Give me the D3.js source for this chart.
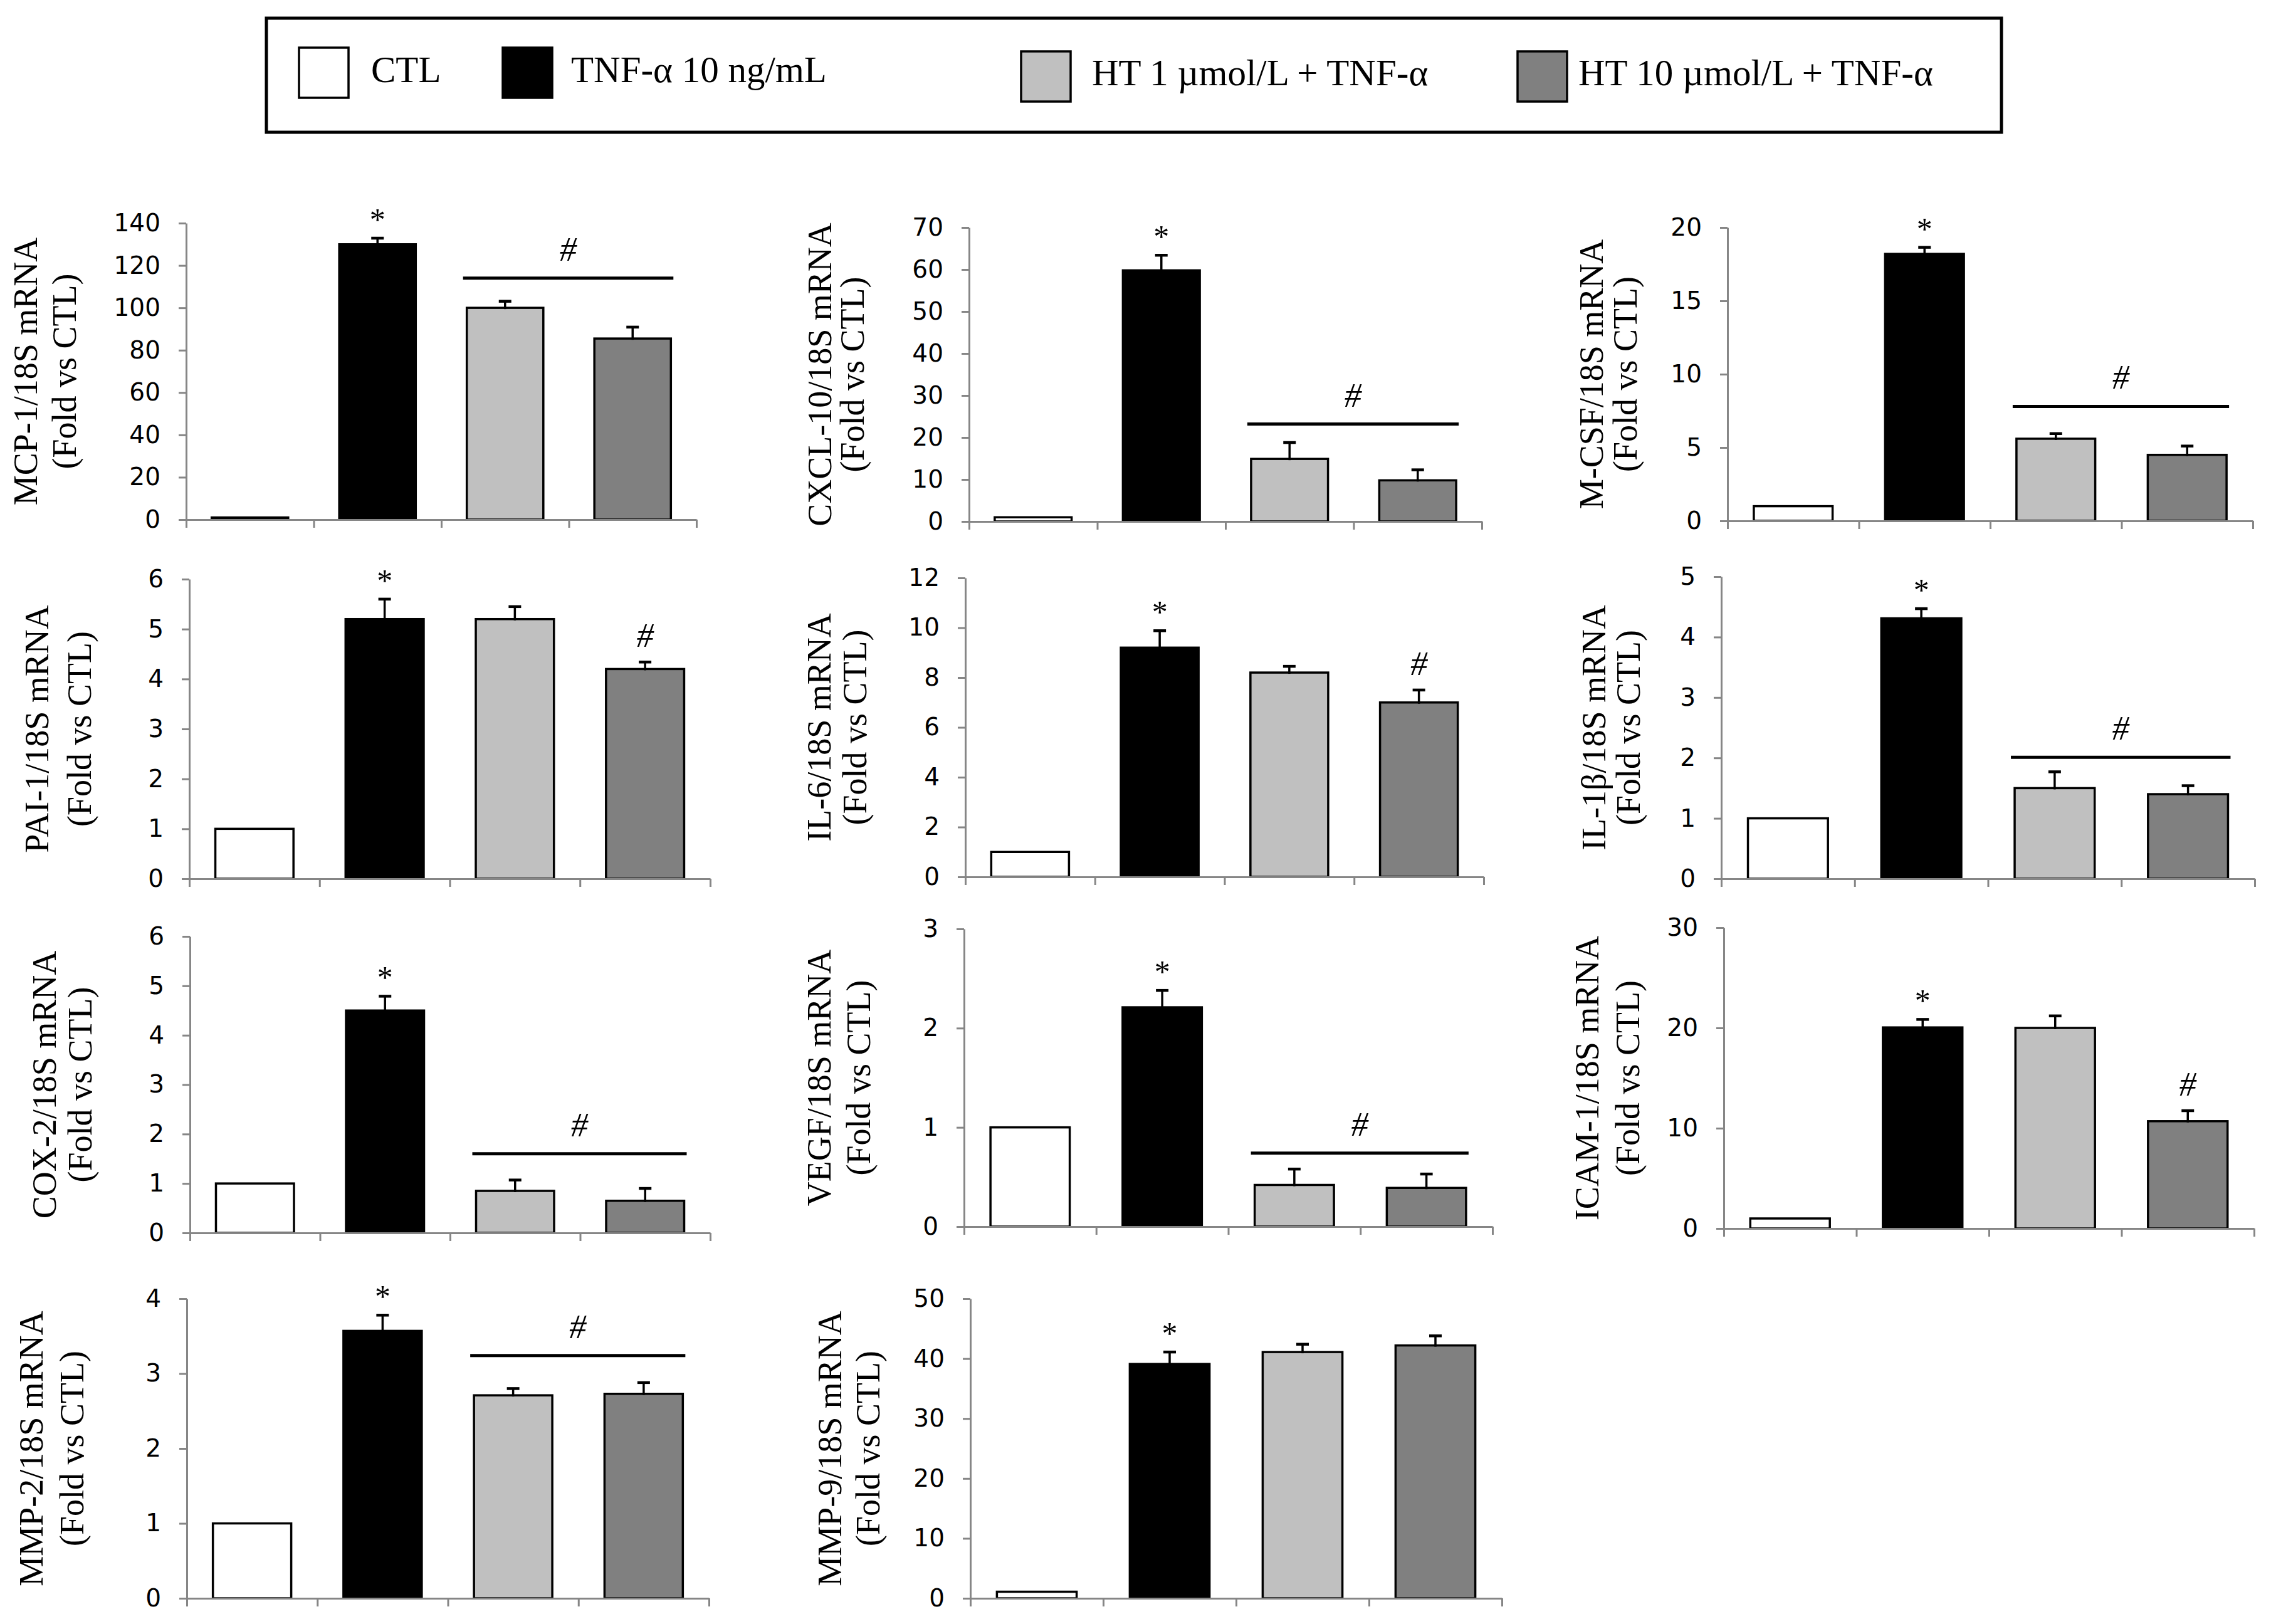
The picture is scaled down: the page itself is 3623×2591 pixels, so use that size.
<!DOCTYPE html>
<html>
<head>
<meta charset="utf-8">
<script src="https://cdn.jsdelivr.net/npm/d3@7"></script>
<style>
  html, body { margin: 0; padding: 0; background: #ffffff; }
  svg { display: block; }
</style>
</head>
<body>
<svg id="chart" width="3623" height="2591"></svg>
<script>
// ---------------- DATA ----------------
const groups = ["CTL", "TNF-α 10 ng/mL", "HT 1 µmol/L + TNF-α", "HT 10 µmol/L + TNF-α"];
const genes = ["MCP-1", "CXCL-10", "M-CSF", "PAI-1", "IL-6", "IL-1β", "COX-2", "VEGF", "ICAM-1", "MMP-2", "MMP-9"];

const meanMCP1 = [1, 130, 100, 85.5];     const semMCP1 = [0, 2.9, 3.1, 5.4];
const meanCXCL10 = [1, 59.8, 14.9, 9.8];  const semCXCL10 = [0, 3.6, 3.9, 2.5];
const meanMCSF = [1, 18.2, 5.6, 4.5];     const semMCSF = [0, 0.45, 0.35, 0.6];
const meanPAI1 = [1, 5.2, 5.2, 4.2];      const semPAI1 = [0, 0.4, 0.25, 0.14];
const meanIL6 = [1, 9.2, 8.2, 7.0];       const semIL6 = [0, 0.68, 0.25, 0.5];
const meanIL1B = [1, 4.31, 1.5, 1.4];     const semIL1B = [0, 0.16, 0.27, 0.14];
const meanCOX2 = [1, 4.5, 0.85, 0.65];    const semCOX2 = [0, 0.29, 0.22, 0.25];
const meanVEGF = [1, 2.21, 0.42, 0.39];   const semVEGF = [0, 0.17, 0.16, 0.14];
const meanICAM1 = [1, 20.05, 20.0, 10.7]; const semICAM1 = [0, 0.8, 1.2, 1.05];
const meanMMP2 = [1, 3.57, 2.71, 2.73];   const semMMP2 = [0, 0.21, 0.09, 0.15];
const meanMMP9 = [1.1, 39.1, 41.1, 42.2]; const semMMP9 = [0, 2.0, 1.3, 1.6];

const yMaxes = [140, 70, 20, 6, 12, 5, 6, 3, 30, 4, 50];
const ySteps = [20, 10, 5, 1, 2, 1, 1, 1, 10, 1, 10];

// significance: "*" over TNF-α bar; "#" either over a bracket (level in data units) or over the HT 10 bar
const hashKind = ["line", "line", "line", "bar", "bar", "line", "line", "line", "bar", "line", "none"];
const hashLineLevel = [114, 23.2, 7.8, null, null, 2.01, 1.6, 0.74, null, 3.24, null];

const allMeans = [meanMCP1, meanCXCL10, meanMCSF, meanPAI1, meanIL6, meanIL1B, meanCOX2, meanVEGF, meanICAM1, meanMMP2, meanMMP9];
const allSems = [semMCP1, semCXCL10, semMCSF, semPAI1, semIL6, semIL1B, semCOX2, semVEGF, semICAM1, semMMP2, semMMP9];

// ---------------- LAYOUT / STYLE ----------------
const fills = ["#ffffff", "#000000", "#c0c0c0", "#808080"];
const axisColor = "#868686";
const serif = "'Liberation Serif', 'Times New Roman', serif";
const sans = "'DejaVu Sans', 'Liberation Sans', Arial, sans-serif";

// panel boxes: left (y-axis x), right, top (max tick), bottom (zero), label baseline offsets
const layout = [
  {l: 297,  r: 1111, t: 356,  b: 829,  o1: 238, o2: 176},
  {l: 1546, r: 2364, t: 363,  b: 832,  o1: 220, o2: 168},
  {l: 2756, r: 3594, t: 363,  b: 831,  o1: 199, o2: 145},
  {l: 302,  r: 1133, t: 924,  b: 1402, o1: 225, o2: 157},
  {l: 1540, r: 2367, t: 922,  b: 1399, o1: 215, o2: 158},
  {l: 2746, r: 3597, t: 920,  b: 1402, o1: 185, o2: 130},
  {l: 303,  r: 1133, t: 1494, b: 1967, o1: 214, o2: 157},
  {l: 1538, r: 2381, t: 1482, b: 1957, o1: 213, o2: 150},
  {l: 2750, r: 3596, t: 1480, b: 1960, o1: 200, o2: 135},
  {l: 298,  r: 1131, t: 2072, b: 2550, o1: 230, o2: 165},
  {l: 1548, r: 2396, t: 2072, b: 2550, o1: 206, o2: 145}
];

const svg = d3.select("#chart");
svg.append("rect").attr("x", 0).attr("y", 0).attr("width", 3623).attr("height", 2591).attr("fill", "#ffffff");

// ---------------- LEGEND ----------------
const legend = svg.append("g").attr("class", "legend");
legend.append("rect")
  .attr("x", 425).attr("y", 29).attr("width", 2768).attr("height", 182)
  .attr("fill", "none").attr("stroke", "#000").attr("stroke-width", 5);
const legSwX = [477, 802, 1629, 2421];
const legSwY = [76, 76, 82, 82];
const legTxX = [592, 911, 1742, 2518];
const legTxY = [131, 131, 136, 136];
groups.forEach((g, i) => {
  legend.append("rect")
    .attr("x", legSwX[i]).attr("y", legSwY[i]).attr("width", 79).attr("height", 80)
    .attr("fill", fills[i]).attr("stroke", "#000").attr("stroke-width", 3.5);
  legend.append("text")
    .attr("x", legTxX[i]).attr("y", legTxY[i])
    .attr("font-family", serif).attr("font-size", 59).attr("fill", "#000")
    .text(g);
});

// ---------------- PANELS ----------------
genes.forEach((gene, p) => {
  const L = layout[p];
  const means = allMeans[p], sems = allSems[p];
  const g = svg.append("g").attr("class", "panel");

  const x = d3.scaleBand().domain(groups).range([L.l, L.r]).paddingInner(0.4).paddingOuter(0.2);
  const xb = d3.scaleLinear().domain([0, groups.length]).range([L.l, L.r]);
  const y = d3.scaleLinear().domain([0, yMaxes[p]]).range([L.b, L.t]);
  const ticks = d3.range(0, yMaxes[p] + ySteps[p] / 2, ySteps[p]);

  // bars
  g.selectAll("rect.bar").data(groups).join("rect")
    .attr("class", "bar")
    .attr("x", d => x(d))
    .attr("y", (d, i) => y(means[i]))
    .attr("width", x.bandwidth())
    .attr("height", (d, i) => y(0) - y(means[i]))
    .attr("fill", (d, i) => fills[i])
    .attr("stroke", "#000").attr("stroke-width", 3.5);

  // error bars (upper only)
  groups.forEach((d, i) => {
    if (!sems[i]) return;
    const cx = x(d) + x.bandwidth() / 2;
    g.append("line").attr("x1", cx).attr("x2", cx)
      .attr("y1", y(means[i]) + 2).attr("y2", y(means[i] + sems[i]))
      .attr("stroke", "#000").attr("stroke-width", 3.5);
    g.append("line").attr("x1", cx - 10).attr("x2", cx + 10)
      .attr("y1", y(means[i] + sems[i])).attr("y2", y(means[i] + sems[i]))
      .attr("stroke", "#000").attr("stroke-width", 4.5);
  });

  // y axis
  const ya = g.append("g").attr("transform", `translate(${L.l},0)`)
    .call(d3.axisLeft(y).tickValues(ticks).tickFormat(d3.format("d")).tickSize(12).tickPadding(29).tickSizeOuter(0));
  ya.select(".domain").attr("stroke", axisColor).attr("stroke-width", 3);
  ya.selectAll(".tick line").attr("stroke", axisColor).attr("stroke-width", 3);
  ya.selectAll(".tick text").attr("font-family", sans).attr("font-size", 39).attr("fill", "#000");

  // x axis (category boundaries)
  const xa = g.append("g").attr("transform", `translate(0,${L.b})`)
    .call(d3.axisBottom(xb).tickValues(d3.range(0, groups.length + 1)).tickFormat("").tickSize(13).tickSizeOuter(0));
  xa.select(".domain").attr("stroke", axisColor).attr("stroke-width", 3);
  xa.selectAll(".tick line").attr("stroke", axisColor).attr("stroke-width", 3);

  // y-axis title (two lines, rotated)
  const cy = (L.t + L.b) / 2;
  g.append("text")
    .attr("transform", `translate(${L.l - L.o1},${cy}) rotate(-90)`)
    .attr("text-anchor", "middle")
    .attr("font-family", serif).attr("font-size", 54).attr("fill", "#000")
    .text(gene + "/18S mRNA");
  g.append("text")
    .attr("transform", `translate(${L.l - L.o2},${cy}) rotate(-90)`)
    .attr("text-anchor", "middle")
    .attr("font-family", serif).attr("font-size", 54).attr("fill", "#000")
    .text("(Fold vs CTL)");

  // star over TNF-α
  const tnf = groups[1];
  const starCy = y(means[1] + sems[1]) - 35;
  g.append("text")
    .attr("x", x(tnf) + x.bandwidth() / 2).attr("y", starCy + 22)
    .attr("text-anchor", "middle")
    .attr("font-family", serif).attr("font-size", 50).attr("fill", "#000")
    .text("*");

  // hash
  if (hashKind[p] === "line") {
    const x1 = x(groups[2]) - 6, x2 = x(groups[3]) + x.bandwidth() + 4;
    const ly = y(hashLineLevel[p]);
    g.append("line").attr("x1", x1).attr("x2", x2).attr("y1", ly).attr("y2", ly)
      .attr("stroke", "#000").attr("stroke-width", 5);
    g.append("text")
      .attr("x", (x1 + x2) / 2).attr("y", ly - 46 + 18)
      .attr("text-anchor", "middle")
      .attr("font-family", serif).attr("font-style", "italic").attr("font-size", 54).attr("fill", "#000")
      .text("#");
  } else if (hashKind[p] === "bar") {
    const cyH = y(means[3] + sems[3]) - 42;
    g.append("text")
      .attr("x", x(groups[3]) + x.bandwidth() / 2).attr("y", cyH + 18)
      .attr("text-anchor", "middle")
      .attr("font-family", serif).attr("font-style", "italic").attr("font-size", 54).attr("fill", "#000")
      .text("#");
  }
});
</script>
</body>
</html>
